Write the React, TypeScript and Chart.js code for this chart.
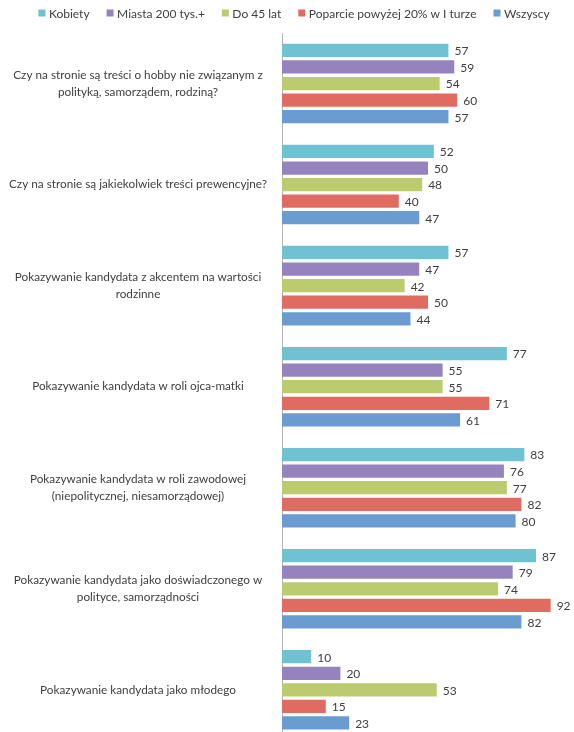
import React, { useEffect, useRef } from "react";
import { Chart, registerables } from "chart.js";

Chart.register(...registerables);

const FONT = "Lato";
const TEXT_COLOR = "#404040";

const categories: (string | string[])[] = [
  ["Czy na stronie są treści o hobby nie związanym z", "polityką, samorządem, rodziną?"],
  "Czy na stronie są jakiekolwiek treści prewencyjne?",
  ["Pokazywanie kandydata z akcentem na wartości", "rodzinne"],
  "Pokazywanie kandydata w roli ojca-matki",
  ["Pokazywanie kandydata w roli zawodowej", "(niepolitycznej, niesamorządowej)"],
  ["Pokazywanie kandydata jako doświadczonego w", "polityce, samorządności"],
  "Pokazywanie kandydata jako młodego",
];

const seriesNames = [
  "Kobiety",
  "Miasta 200 tys.+",
  "Do 45 lat",
  "Poparcie powyżej 20% w I turze",
  "Wszyscy",
];

const kobiety = [57, 52, 57, 77, 83, 87, 10];
const miasta200 = [59, 50, 47, 55, 76, 79, 20];
const do45lat = [54, 48, 42, 55, 77, 74, 53];
const poparcie20 = [60, 40, 50, 71, 82, 92, 15];
const wszyscy = [57, 47, 44, 61, 80, 82, 23];

const seriesValues = [kobiety, miasta200, do45lat, poparcie20, wszyscy];
const seriesColors = ["#70C1D2", "#9583BD", "#BBCB6E", "#E06C61", "#6A9BD1"];

const legendPlugin = {
  id: "customLegend",
  afterDraw(chart: any) {
    const ctx = chart.ctx as CanvasRenderingContext2D;
    ctx.save();
    ctx.font = `12px ${FONT}`;
    ctx.textBaseline = "middle";
    ctx.textAlign = "left";
    const box = 7;
    const gapBox = 3.5;
    const gapItem = 17;
    const labels: string[] = chart.data.datasets.map((d: any) => d.label);
    const widths = labels.map((l) => ctx.measureText(l).width);
    const total =
      widths.reduce((a, w) => a + box + gapBox + w, 0) + gapItem * (labels.length - 1);
    let x = (chart.width - total) / 2 + 7;
    const y = 13;
    labels.forEach((l, i) => {
      ctx.fillStyle = chart.data.datasets[i].backgroundColor;
      ctx.fillRect(x, y - box / 2, box, box);
      x += box + gapBox;
      ctx.fillStyle = TEXT_COLOR;
      ctx.fillText(l, x, y + 1);
      x += widths[i] + gapItem;
    });
    ctx.restore();
  },
};

const valueLabelPlugin = {
  id: "valueLabels",
  afterDatasetsDraw(chart: any) {
    const ctx = chart.ctx as CanvasRenderingContext2D;
    ctx.save();
    ctx.font = `12px ${FONT}`;
    ctx.fillStyle = TEXT_COLOR;
    ctx.textAlign = "left";
    ctx.textBaseline = "middle";
    chart.data.datasets.forEach((ds: any, i: number) => {
      const meta = chart.getDatasetMeta(i);
      meta.data.forEach((el: any, j: number) => {
        ctx.fillText(String(ds.data[j]), el.x + 6, el.y + 1);
      });
    });
    ctx.restore();
  },
};

export default function App() {
  const canvasRef = useRef<HTMLCanvasElement | null>(null);

  useEffect(() => {
    if (!canvasRef.current) return;
    const chart = new Chart(canvasRef.current, {
      type: "bar",
      data: {
        labels: categories,
        datasets: seriesNames.map((name, i) => ({
          label: name,
          data: seriesValues[i],
          backgroundColor: seriesColors[i],
          borderWidth: 0,
          barPercentage: 0.8,
          categoryPercentage: 0.82,
        })),
      },
      options: {
        indexAxis: "y",
        animation: false,
        responsive: false,
        maintainAspectRatio: false,
        layout: { padding: { top: 33, left: 0, right: 0, bottom: 0 } },
        plugins: {
          legend: { display: false },
          tooltip: { enabled: false },
        },
        scales: {
          x: { display: false, min: 0, max: 100 },
          y: {
            grid: { display: false },
            border: { display: true, color: "#B4B4B4", width: 1 },
            ticks: {
              font: { family: FONT, size: 11.75, lineHeight: 1.5 },
              color: TEXT_COLOR,
              crossAlign: "center",
              padding: 7,
              autoSkip: false,
            },
            afterFit: (scale: any) => {
              scale.width = 282;
            },
          },
        },
      },
      plugins: [legendPlugin, valueLabelPlugin],
    });
    return () => chart.destroy();
  }, []);

  return (
    <div
      style={{
        position: "fixed",
        left: 0,
        top: 0,
        width: 574,
        height: 732,
        overflow: "hidden",
        background: "#fff",
      }}
    >
      <canvas ref={canvasRef} width={574} height={765} style={{ display: "block" }} />
    </div>
  );
}
